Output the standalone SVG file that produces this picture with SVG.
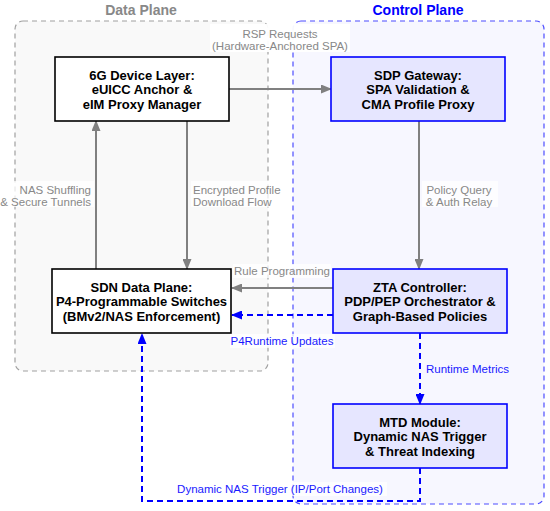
<svg xmlns="http://www.w3.org/2000/svg" width="550" height="511" viewBox="0 0 550 511">
<defs>
<style>
.title{font-family:"Liberation Sans",Arial,sans-serif;font-size:14px;font-weight:bold;text-anchor:middle}
.nt{font-family:"Liberation Sans",Arial,sans-serif;font-size:13px;font-weight:bold;text-anchor:middle;fill:#000}
.lbl{font-family:"Liberation Sans",Arial,sans-serif;font-size:11.5px;fill:#888}
.blbl{font-family:"Liberation Sans",Arial,sans-serif;font-size:11.5px;fill:#1a1aff}
.gray{fill:none;stroke:#808080;stroke-width:2}
.blue{fill:none;stroke:#0000ff;stroke-width:2;stroke-dasharray:6,4}
.dn{fill:#fff;stroke:#000;stroke-width:1.6}
.cn{fill:#e6e6ff;stroke:#0000ff;stroke-width:1.6}
.bg{fill:#fff;opacity:0.75}
</style>
<marker id="ag" markerUnits="userSpaceOnUse" markerWidth="11" markerHeight="9" refX="10" refY="4.5" orient="auto"><path d="M0,0 L11,4.5 L0,9 z" fill="#808080"/></marker>
<marker id="ab" markerUnits="userSpaceOnUse" markerWidth="11" markerHeight="9" refX="10" refY="4.5" orient="auto"><path d="M0,0 L11,4.5 L0,9 z" fill="#0000ff"/></marker>
</defs>
<g id="data-plane">
<rect x="15" y="21" width="253" height="350" rx="8" fill="#f9f9f9" stroke="#a0a0a0" stroke-width="1.2" stroke-dasharray="5,4"/>
<text class="title" x="141" y="15" fill="#888">Data Plane</text>
</g>
<g id="control-plane">
<rect x="293" y="21" width="251" height="483" rx="8" fill="#f7f7ff" stroke="#4d4dff" stroke-width="1.2" stroke-dasharray="5,4"/>
<text class="title" x="418" y="15" fill="#0000ff">Control Plane</text>
</g>
<g id="connectors">
<rect x="210" y="24" width="140" height="28" fill="#fff" opacity="0.95"/>
<text class="lbl" x="280" y="38" text-anchor="middle">RSP Requests</text>
<text class="lbl" x="280" y="50" text-anchor="middle">(Hardware-Anchored SPA)</text>
<line class="gray" x1="229" y1="89" x2="331" y2="89" marker-end="url(#ag)"/>
<line class="gray" x1="187" y1="121" x2="187" y2="269" marker-end="url(#ag)"/>
<rect class="bg" x="191" y="181" width="92" height="26"/>
<text class="lbl" x="193" y="194">Encrypted Profile</text>
<text class="lbl" x="193" y="206">Download Flow</text>
<line class="gray" x1="96" y1="269" x2="96" y2="121" marker-end="url(#ag)"/>
<rect class="bg" x="1" y="181" width="93" height="26"/>
<text class="lbl" x="91" y="194" text-anchor="end">NAS Shuffling</text>
<text class="lbl" x="91" y="206" text-anchor="end">&amp; Secure Tunnels</text>
<line class="gray" x1="419" y1="121" x2="419" y2="269" marker-end="url(#ag)"/>
<rect class="bg" x="422" y="181" width="76" height="26"/>
<text class="lbl" x="459" y="194" text-anchor="middle">Policy Query</text>
<text class="lbl" x="459" y="206" text-anchor="middle">&amp; Auth Relay</text>
<line class="gray" x1="333" y1="288" x2="232" y2="288" marker-end="url(#ag)"/>
<rect class="bg" x="233" y="264" width="98" height="14"/>
<text class="lbl" x="282" y="275" text-anchor="middle">Rule Programming</text>
<line class="blue" x1="333" y1="315" x2="232" y2="315" marker-end="url(#ab)"/>
<rect class="bg" x="230" y="334" width="105" height="14"/>
<text class="blbl" x="282" y="345" text-anchor="middle">P4Runtime Updates</text>
<line class="blue" x1="420" y1="333" x2="420" y2="404" marker-end="url(#ab)"/>
<text class="blbl" x="426" y="373">Runtime Metrics</text>
<path class="blue" d="M420,468 V501 H142 V334" marker-end="url(#ab)"/>
<rect class="bg" x="175" y="482" width="212" height="14"/>
<text class="blbl" x="280" y="493" text-anchor="middle">Dynamic NAS Trigger (IP/Port Changes)</text>
</g>
<g id="device-layer">
<rect class="dn" x="55" y="57" width="174" height="64"/>
<text class="nt" x="142" y="79.5">6G Device Layer:</text>
<text class="nt" x="142" y="94">eUICC Anchor &amp;</text>
<text class="nt" x="142" y="108.5">eIM Proxy Manager</text>
</g>
<g id="sdp-gateway">
<rect class="cn" x="331" y="57" width="174" height="64"/>
<text class="nt" x="418" y="79.5">SDP Gateway:</text>
<text class="nt" x="418" y="94">SPA Validation &amp;</text>
<text class="nt" x="418" y="108.5">CMA Profile Proxy</text>
</g>
<g id="sdn-data-plane">
<rect class="dn" x="52" y="269" width="179" height="64"/>
<text class="nt" x="141.5" y="291.5">SDN Data Plane:</text>
<text class="nt" x="141.5" y="306">P4-Programmable Switches</text>
<text class="nt" x="141.5" y="320.5">(BMv2/NAS Enforcement)</text>
</g>
<g id="zta-controller">
<rect class="cn" x="333" y="269" width="174" height="64"/>
<text class="nt" x="420" y="291.5">ZTA Controller:</text>
<text class="nt" x="420" y="306">PDP/PEP Orchestrator &amp;</text>
<text class="nt" x="420" y="320.5">Graph-Based Policies</text>
</g>
<g id="mtd-module">
<rect class="cn" x="333" y="404" width="174" height="64"/>
<text class="nt" x="420" y="426.5">MTD Module:</text>
<text class="nt" x="420" y="441">Dynamic NAS Trigger</text>
<text class="nt" x="420" y="455.5">&amp; Threat Indexing</text>
</g>
</svg>
